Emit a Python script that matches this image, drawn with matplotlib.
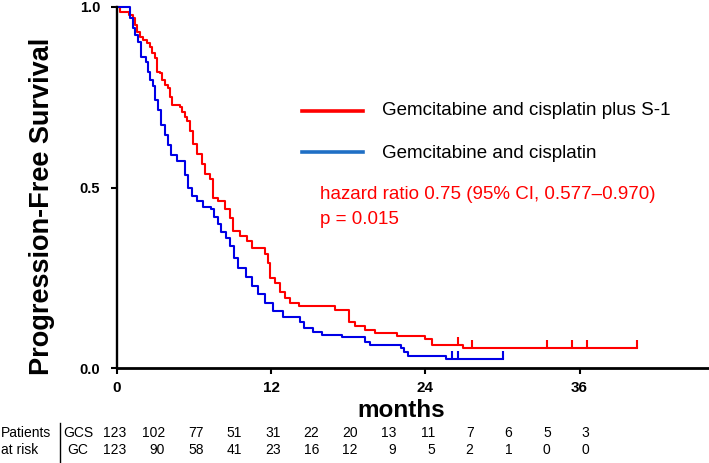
import numpy as np
import matplotlib
matplotlib.use("Agg")
import matplotlib.pyplot as plt
from matplotlib.lines import Line2D
from matplotlib import transforms

plt.rcParams['font.family'] = ['Liberation Sans', 'DejaVu Sans']

# Kaplan-Meier steps (months, survival)
gcs_t = [0, 0.25, 0.9, 1.25, 1.4, 1.55, 1.8, 2.0, 2.3, 2.6, 2.7, 2.95, 3.1, 3.35, 3.5,
         3.75, 3.95, 4.1, 4.3, 4.9, 5.05, 5.3, 5.45, 5.7, 5.9, 6.2, 6.6, 6.85, 7.25, 7.5,
         7.85, 8.4, 8.8, 9.0, 9.55, 10.1, 10.5, 11.5, 11.75, 11.9, 12.3, 12.7, 13.1, 13.5,
         14.2, 17.0, 18.05, 18.5, 19.3, 20.1, 21.8, 24.0, 24.5, 26.9]
gcs_s = [1.0, 0.986, 0.978, 0.970, 0.950, 0.931, 0.917, 0.909, 0.900, 0.889, 0.873, 0.859,
         0.820, 0.817, 0.798, 0.784, 0.776, 0.751, 0.729, 0.723, 0.709, 0.695, 0.684, 0.657,
         0.621, 0.593, 0.565, 0.537, 0.524, 0.471, 0.463, 0.441, 0.416, 0.380, 0.366, 0.352,
         0.332, 0.316, 0.290, 0.250, 0.235, 0.211, 0.194, 0.180, 0.172, 0.161, 0.127, 0.116,
         0.105, 0.097, 0.089, 0.080, 0.064, 0.055]
gcs_end = 40.5
gcs_censor = [26.5, 27.6, 33.5, 35.4, 36.6, 40.5]

gc_t = [0, 1.0, 1.25, 1.4, 1.6, 1.85, 2.25, 2.4, 2.55, 2.8, 2.95, 3.2, 3.4, 3.75, 3.95,
        4.2, 4.65, 5.3, 5.5, 5.85, 6.2, 6.7, 7.3, 7.55, 7.85, 8.1, 8.5, 8.8, 9.1, 9.4,
        10.0, 10.5, 11.0, 11.5, 12.15, 12.9, 14.25, 14.55, 15.25, 15.95, 17.5, 19.3, 19.7,
        22.1, 22.35, 22.65, 25.6]
gc_s = [1.0, 0.970, 0.942, 0.922, 0.903, 0.861, 0.848, 0.820, 0.798, 0.781, 0.742, 0.715,
        0.673, 0.645, 0.618, 0.590, 0.574, 0.535, 0.499, 0.476, 0.463, 0.446, 0.440, 0.418,
        0.399, 0.377, 0.360, 0.338, 0.305, 0.277, 0.252, 0.227, 0.205, 0.180, 0.158, 0.141,
        0.127, 0.111, 0.100, 0.091, 0.086, 0.072, 0.064, 0.055, 0.044, 0.033, 0.025]
gc_end = 30.0
gc_censor = [26.1, 26.5, 30.0]

# patients at risk
risk_months = [0, 3, 6, 9, 12, 15, 18, 21, 24, 27, 30, 33, 36]
risk_gcs = [123, 102, 77, 51, 31, 22, 20, 13, 11, 7, 6, 5, 3]
risk_gc = [123, 90, 58, 41, 23, 16, 12, 9, 5, 2, 1, 0, 0]

RED = '#ff0000'
BLUE = '#0000e6'
LEG_BLUE = '#1f6fc5'

W, H = 709, 463
fig = plt.figure(figsize=(W / 100, H / 100), dpi=100)
ax = fig.add_axes([117 / W, 1 - 368 / H, (W - 117) / W, 361 / H])


def fx(px):
    return px / W


def fy(py):
    return 1 - py / H


def km(ax, t, s, end, censor, color):
    ax.step(t + [end], s + [s[-1]], where='post', color=color, lw=1.5, clip_on=False)
    idx = np.searchsorted(t, censor, side='right') - 1
    base = np.array(s)[idx]
    ax.vlines(censor, base, base + 0.022, color=color, lw=1.5)


km(ax, gcs_t, gcs_s, gcs_end, gcs_censor, RED)
km(ax, gc_t, gc_s, gc_end, gc_censor, BLUE)

ax.set_xlim(0, (W - 117) / 12.85)
ax.set_ylim(0, 1)
for sp in ['top', 'right']:
    ax.spines[sp].set_visible(False)
ax.spines['left'].set_linewidth(1.7)
ax.spines['bottom'].set_linewidth(2)

ax.set_xticks([0, 12, 24, 36])
ax.set_yticks([0, 0.5, 1.0])
ax.set_yticklabels(['0.0', '0.5', '1.0'])
ax.tick_params(axis='x', length=4, width=1.5, pad=5, labelsize=11)
ax.tick_params(axis='y', length=4, width=1.5, pad=8, labelsize=10.5)
for lbl in ax.get_xticklabels() + ax.get_yticklabels():
    lbl.set_fontweight('bold')

fig.text(fx(42), fy(206), 'Progression-Free Survival', rotation=90, ha='center',
         va='center', fontsize=19.5, fontweight='bold')
fig.text(fx(401), fy(417), 'months', ha='center', va='baseline', fontsize=17.5,
         fontweight='bold')

# legend
fig.add_artist(Line2D([fx(302), fx(363)], [fy(111), fy(111)], color=RED, lw=2.6))
fig.add_artist(Line2D([fx(302), fx(363)], [fy(152), fy(152)], color=LEG_BLUE, lw=2.6))
fig.text(fx(382), fy(115), 'Gemcitabine and cisplatin plus S-1', fontsize=13.5, va='baseline')
fig.text(fx(382), fy(158), 'Gemcitabine and cisplatin', fontsize=13.5, va='baseline')

fig.text(fx(320), fy(199), 'hazard ratio 0.75 (95% CI, 0.577\u20130.970)', fontsize=13.5,
         color=RED, va='baseline')
fig.text(fx(320), fy(224), 'p = 0.015', fontsize=13.5, color=RED, va='baseline')

# at-risk table
trans = transforms.blended_transform_factory(ax.transData, fig.transFigure)
for m, a, b in zip(risk_months, risk_gcs, risk_gc):
    ax.text(m + 0.75, fy(437), str(a), transform=trans, ha='right', va='baseline',
            fontsize=10, clip_on=False)
    ax.text(m + 0.75, fy(454), str(b), transform=trans, ha='right', va='baseline',
            fontsize=10, clip_on=False)
fig.text(fx(1), fy(437), 'Patients', fontsize=10, va='baseline')
fig.text(fx(1), fy(454), 'at risk', fontsize=10, va='baseline')
fig.text(fx(63), fy(437), 'GCS', fontsize=10, va='baseline')
fig.text(fx(88), fy(454), 'GC', fontsize=10, va='baseline', ha='right')
fig.add_artist(Line2D([fx(60), fx(60)], [fy(423), fy(462)], color='black', lw=1))

fig.savefig('out.png', dpi=100)
